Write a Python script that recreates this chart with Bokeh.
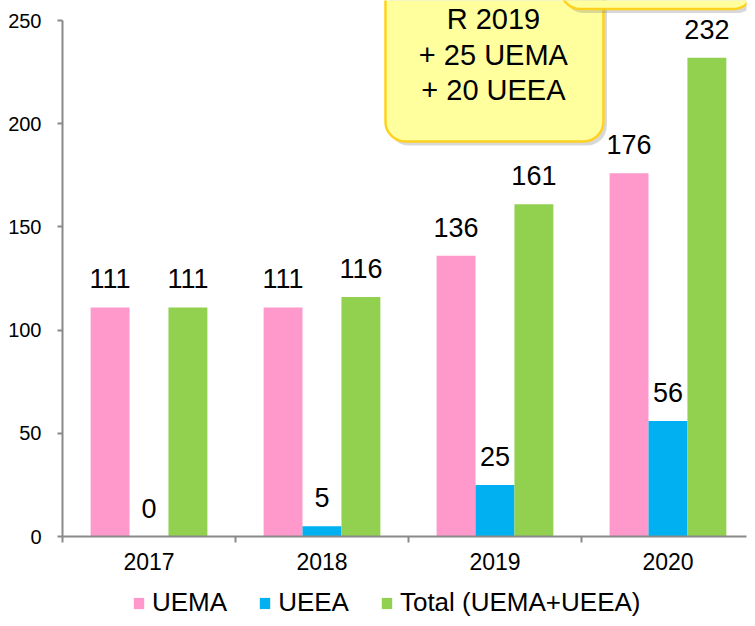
from bokeh.plotting import figure
from bokeh.layouts import column
from bokeh.models import (ColumnDataSource, Range1d, FixedTicker, LabelSet,
                          Legend, LegendItem)
from bokeh.transform import dodge
from bokeh.core.properties import value
from bokeh.embed import file_html
from bokeh.resources import INLINE

# ---- data ----
years = ["2017", "2018", "2019", "2020"]
uema = [111, 111, 136, 176]
ueea = [0, 5, 25, 56]
total = [111, 116, 161, 232]
series_names = ["UEMA", "UEEA", "Total (UEMA+UEEA)"]
y_ticks = [0, 50, 100, 150, 200, 250]
note_lines = ["R 2019", "+ 25 UEMA", "+ 20 UEEA"]

# ---- style ----
FONT = "Liberation Sans"
colors = ["#FF99CC", "#00B0F0", "#92D050"]
AXIS_COLOR = "#898989"
BAR_W = 0.225
offsets = [-BAR_W, 0.0, BAR_W]

centers = [i + 0.5 for i in range(len(years))]

p = figure(width=747, height=580, output_backend="svg", toolbar_location=None,
           x_range=Range1d(0, 3.954), y_range=Range1d(0, 259.69),
           min_border_left=62, min_border_right=1, min_border_top=0,
           min_border_bottom=44)
p.outline_line_color = None
p.xgrid.visible = False
p.ygrid.visible = False
p.background_fill_color = "white"

# ---- callout boxes (annotation) ----
SH_X, SH_Y = 0.02, -2.0
for (l, r, b, t) in [(1.867, 3.127, 191.4, 320.0), (2.879, 3.994, 255.6, 320.0)]:
    p.quad(left=[l + SH_X], right=[r + SH_X], bottom=[b + SH_Y], top=[t],
           fill_color="#7F7F7F", fill_alpha=0.3, line_color=None, border_radius=20)
    p.quad(left=[l], right=[r], bottom=[b], top=[t], fill_color="#FFFF9E",
           line_color="#FFD21F", line_width=2.5, border_radius=20)

note_x = 2.491
note_y0, note_step = 250.5, 17.0
p.text(x=[note_x] * len(note_lines),
       y=[note_y0 - i * note_step for i in range(len(note_lines))],
       text=note_lines, text_font=value(FONT), text_font_size="29px",
       text_color="black", text_align="center", text_baseline="middle")

# ---- bars ----
for vals, off, col in zip([uema, ueea, total], offsets, colors):
    src = ColumnDataSource(dict(x=centers, top=vals, label=[str(v) for v in vals]))
    p.vbar(x=dodge("x", off), top="top", bottom=0, width=BAR_W, source=src,
           fill_color=col, line_color=None)
    p.add_layout(LabelSet(x=dodge("x", off), y="top", text="label", source=src,
                          y_offset=19, text_align="center",
                          text_baseline="alphabetic", text_font=value(FONT),
                          text_font_size="27px", text_color="black"))

# ---- axes ----
xa = p.xaxis[0]
xa.ticker = FixedTicker(ticks=centers, minor_ticks=list(range(len(years) + 1)))
xa.major_label_overrides = {c: y for c, y in zip(centers, years)}
xa.major_tick_out = 0
xa.major_tick_in = 0
xa.minor_tick_out = 6
xa.minor_tick_in = 0
xa.minor_tick_line_color = AXIS_COLOR
xa.minor_tick_line_width = 2
xa.axis_line_color = AXIS_COLOR
xa.axis_line_width = 2
xa.major_label_text_font = FONT
xa.major_label_text_font_size = "23px"
xa.major_label_text_color = "black"
xa.major_label_standoff = 10

ya = p.yaxis[0]
ya.ticker = FixedTicker(ticks=y_ticks, minor_ticks=[])
ya.bounds = (0, 250)
ya.major_tick_out = 5
ya.major_tick_in = 0
ya.major_tick_line_color = AXIS_COLOR
ya.major_tick_line_width = 2
ya.axis_line_color = AXIS_COLOR
ya.axis_line_width = 2
ya.major_label_text_font = FONT
ya.major_label_text_font_size = "20px"
ya.major_label_text_color = "black"
ya.major_label_standoff = 16

# ---- legend (separate strip below the chart) ----
pl = figure(width=747, height=38, output_backend="svg", toolbar_location=None,
            x_range=Range1d(0, 1), y_range=Range1d(0, 1),
            min_border_left=0, min_border_right=0, min_border_top=0,
            min_border_bottom=0, x_axis_type=None, y_axis_type=None)
pl.outline_line_color = None
pl.xgrid.visible = False
pl.ygrid.visible = False
# legend swatch proxies: zero-height bars, nothing drawn in the strip itself
proxies = [pl.vbar(x=[0.5], top=[0], bottom=0, width=0.01, fill_color=c,
                   line_color=None) for c in colors]
legend = Legend(items=[LegendItem(label=n, renderers=[r])
                       for n, r in zip(series_names, proxies)],
                orientation="horizontal", location=(70, 0),
                glyph_width=13, glyph_height=14, label_standoff=7, spacing=31,
                padding=0, margin=0, border_line_color=None,
                background_fill_alpha=0, label_text_font=FONT,
                label_text_font_size="26px", label_text_color="black")
pl.add_layout(legend)

layout = column(p, pl, spacing=0)
open("out.html", "w").write(file_html(layout, INLINE))
